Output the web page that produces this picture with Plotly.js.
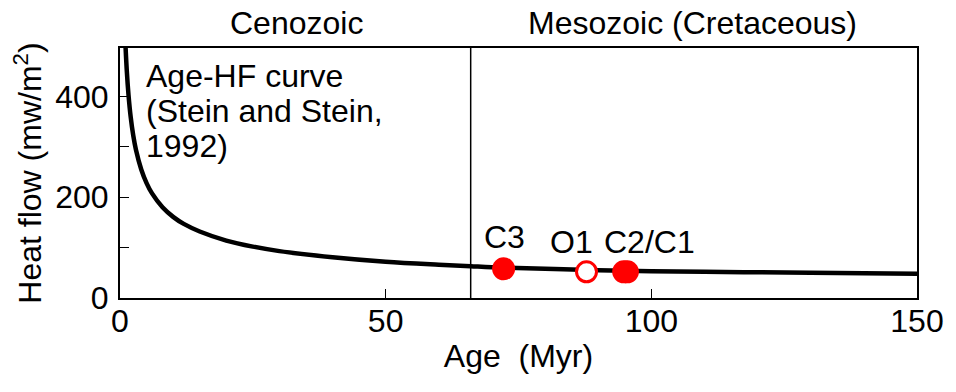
<!DOCTYPE html>
<html>
<head>
<meta charset="utf-8">
<script src="https://cdn.plot.ly/plotly-3.0.1.min.js"></script>
<style>html,body{margin:0;padding:0;background:#fff}#chart{width:956px;height:392px}</style>
</head>
<body>
<div id="chart"></div>
<script>
// Age–heat-flow curve (Stein and Stein, 1992)
const curveAge = [1.05, 1.3, 1.6, 2, 2.5, 3, 4, 5, 6, 8, 10, 12, 15, 20, 25, 30, 40, 50, 60, 66, 70, 80, 90, 100, 110, 120, 130, 140, 150];
const curveHF  = [497, 447, 403, 360, 322, 294, 255, 228, 208, 180, 161, 147, 132, 114, 102, 93, 81, 72, 66, 63, 61, 58, 55, 53, 52, 51, 50, 49, 48];

// Sites (filled = red dots, open = red ring)
const filledNames = ["C3", "C2", "C1"];
const filledAge = [72.2, 94.8, 95.5];
const filledHF  = [58, 52, 52];
const openNames = ["O1"];
const openAge = [87.8];
const openHF  = [52];

// Site labels
const labelText = ["C3", "O1", "C2/C1"];
const labelAge  = [72.4, 85.0, 99.6];
const labelHF   = [122, 112, 112];

// Era boundary (K–Pg)
const boundaryAge = 66;

// Era names
const eraText = ["Cenozoic", "Mesozoic (Cretaceous)"];
const eraPos  = [0.222, 0.718];

// Curve annotation lines
const curveNoteLines = ["Age-HF curve", "(Stein and Stein,", "1992)"];
const curveNoteHF = [441, 371, 302];
const curveNoteAge = 4.6;

// Axis ticks
const xTicks = [0, 50, 100, 150];
const yTicks = [0, 200, 400];

const FONT = '"Liberation Sans", Arial, sans-serif';
const FS = 32;

const traces = [
  {x: curveAge, y: curveHF, type: 'scatter', mode: 'lines',
   line: {color: '#000', width: 4.5, shape: 'spline'}, hoverinfo: 'skip'},
  {x: filledAge, y: filledHF, text: filledNames, type: 'scatter', mode: 'markers',
   marker: {color: '#ff0000', size: 23, line: {width: 0}}},
  {x: openAge, y: openHF, text: openNames, type: 'scatter', mode: 'markers',
   marker: {color: '#ffffff', size: 20, line: {color: '#ff0000', width: 3}}}
];

const annotations = [];
curveNoteLines.forEach((t, i) => annotations.push({
  x: curveNoteAge, y: curveNoteHF[i], xref: 'x', yref: 'y', text: t, showarrow: false,
  xanchor: 'left', yanchor: 'middle', font: {family: FONT, size: FS, color: '#000'}
}));
labelText.forEach((t, i) => annotations.push({
  x: labelAge[i], y: labelHF[i], xref: 'x', yref: 'y', text: t, showarrow: false,
  xanchor: 'center', yanchor: 'middle', font: {family: FONT, size: FS, color: '#000'}
}));
eraText.forEach((t, i) => annotations.push({
  x: eraPos[i], y: 1.0, xref: 'paper', yref: 'paper', yshift: 25, text: t, showarrow: false,
  xanchor: 'center', yanchor: 'middle', font: {family: FONT, size: FS, color: '#000'}
}));

const layout = {
  width: 956, height: 392,
  margin: {l: 120, r: 39, t: 48, b: 94},
  paper_bgcolor: '#fff', plot_bgcolor: '#fff',
  showlegend: false,
  font: {family: FONT, size: FS, color: '#000'},
  xaxis: {
    range: [0, 150], tickvals: xTicks, ticks: 'inside', ticklen: 9, tickwidth: 1, tickcolor: '#000',
    showline: true, linecolor: '#000', linewidth: 2, mirror: true, showgrid: false, zeroline: false,
    ticklabelstandoff: -6,
    tickfont: {family: FONT, size: FS},
    title: {text: 'Age  (Myr)', font: {family: FONT, size: FS}, standoff: 6}
  },
  yaxis: {
    range: [0, 496], tickvals: yTicks,
    ticks: 'inside', ticklen: 9, tickwidth: 1, tickcolor: '#000',
    minor: {dtick: 100, ticks: 'inside', ticklen: 9, tickwidth: 1, tickcolor: '#000', showgrid: false},
    showline: true, linecolor: '#000', linewidth: 2, mirror: true, showgrid: false, zeroline: false,
    ticklabelstandoff: 3,
    tickfont: {family: FONT, size: FS},
    title: {text: 'Heat flow (mw/m<sup>2</sup>)', font: {family: FONT, size: FS}, standoff: 4}
  },
  shapes: [{type: 'line', xref: 'x', yref: 'paper', x0: boundaryAge, x1: boundaryAge, y0: 0, y1: 1,
    line: {color: '#000', width: 1.5}}],
  annotations: annotations
};

Plotly.newPlot('chart', traces, layout, {displayModeBar: false, staticPlot: true});
</script>
</body>
</html>
